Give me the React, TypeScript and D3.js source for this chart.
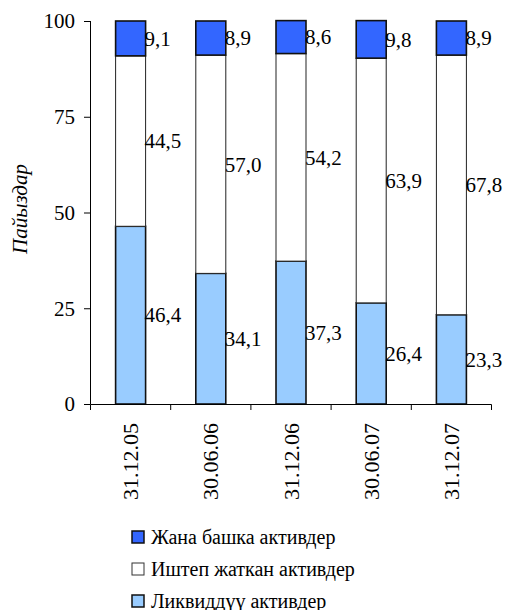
import React from "react";
import * as d3 from "d3";

const categories = ["31.12.05", "30.06.06", "31.12.06", "30.06.07", "31.12.07"];
const liquid = [46.4, 34.1, 37.3, 26.4, 23.3];
const working = [44.5, 57.0, 54.2, 63.9, 67.8];
const other = [9.1, 8.9, 8.6, 9.8, 8.9];
const yTicks = [0, 25, 50, 75, 100];
const seriesNames = ["Ликвиддүү активдер", "Иштеп жаткан активдер", "Жана башка активдер"];
const legendOrder = ["Жана башка активдер", "Иштеп жаткан активдер", "Ликвиддүү активдер"];

const W = 509, H = 610;
const FONT = "Liberation Serif";
const fills = ["#99CCFF", "#FFFFFF", "#3366FF"];
const strokes = ["#111", "#222", "#111"];
const strokeW = [1.6, 1, 1.6];
const css = `svg#chart text, #chart text { font-family: "Liberation Serif", "Times New Roman", serif !important; letter-spacing: 0 !important; }`;

export default function App() {
  const x = d3.scaleBand<string>().domain(categories).range([90.5, 491.5]).paddingInner(0.626).paddingOuter(0.313);
  const y = d3.scaleLinear().domain([0, 100]).range([404, 21]);
  const rows = categories.map((c, i) => ({ cat: c, s0: liquid[i], s1: working[i], s2: other[i] }));
  const stack = d3.stack<any>().keys(["s0", "s1", "s2"])(rows);
  const step = x.step();
  const boundaries = d3.range(categories.length + 1).map(i => 90.5 + i * step);

  return (
    <svg id="chart" width={W} height={H} fontFamily={FONT} style={{ position: "absolute", left: 0, top: 0 }}>
      <style>{css}</style>
      <rect x={0} y={0} width={W} height={H} fill="#fff" />
      {/* bars */}
      {stack.map((layer, li) =>
        layer.map((d, i) => {
          const bx = x(categories[i])!;
          return (
            <rect key={`${li}-${i}`} x={bx} y={y(d[1])} width={x.bandwidth()} height={y(d[0]) - y(d[1])}
              fill={fills[li]} stroke={strokes[li]} strokeWidth={strokeW[li]} />
          );
        })
      )}
      {/* labels */}
      {stack.map((layer, li) =>
        layer.map((d, i) => {
          const bx = x(categories[i])! + x.bandwidth() - 1;
          const v = (d[1] - d[0]);
          return (
            <text key={`l${li}-${i}`} x={bx} y={(y(d[0]) + y(d[1])) / 2} dy="0.35em" fontSize={21} fontFamily={FONT} style={{ fontFamily: FONT }}>
              {v.toFixed(1).replace(".", ",")}
            </text>
          );
        })
      )}
      {/* y axis */}
      <line x1={90.5} x2={90.5} y1={y(100)} y2={y(0)} stroke="#000" />
      {yTicks.map(t => (
        <g key={t}>
          <line x1={84} x2={90.5} y1={y(t) + 0.5} y2={y(t) + 0.5} stroke="#000" />
          <text x={75} y={y(t)} dy="0.35em" textAnchor="end" fontSize={21} fontFamily={FONT} style={{ fontFamily: FONT }}>{t}</text>
        </g>
      ))}
      {/* x axis */}
      <line x1={90.5} x2={boundaries[boundaries.length - 1]} y1={404.5} y2={404.5} stroke="#000" />
      {boundaries.map((b, i) => (
        <line key={i} x1={b} x2={b} y1={404.5} y2={410} stroke="#000" />
      ))}
      {categories.map(c => (
        <text key={c} transform={`translate(${x(c)! + x.bandwidth() / 2 + 7.5},423) rotate(-90)`} textAnchor="end" fontSize={22} fontFamily={FONT} style={{ fontFamily: FONT }}>{c}</text>
      ))}
      {/* y title */}
      <text transform={`translate(27,209) rotate(-90)`} textAnchor="middle" fontSize={21} fontStyle="italic" fontFamily={FONT} style={{ fontFamily: FONT }}>Пайыздар</text>
      {/* legend */}
      {legendOrder.map((name, i) => {
        const si = seriesNames.indexOf(name);
        const ly = 531 + i * 32;
        return (
          <g key={name}>
            <rect x={132} y={ly} width={12} height={12} fill={fills[si]} stroke={si === 1 ? "#333" : "#111"} strokeWidth={si === 1 ? 1 : 1.5} />
            <text x={151} y={ly + 13} fontSize={20} fontFamily={FONT} style={{ fontFamily: FONT }}>{name}</text>
          </g>
        );
      })}
    </svg>
  );
}
